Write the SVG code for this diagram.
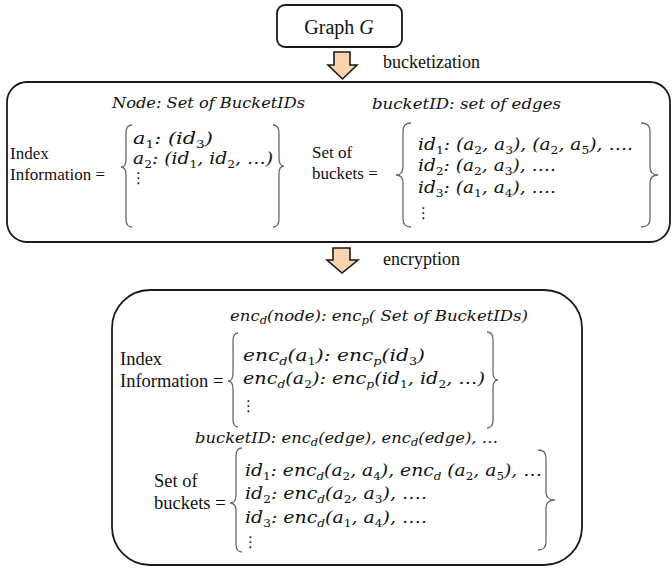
<svg xmlns="http://www.w3.org/2000/svg" width="672" height="568" viewBox="0 0 672 568">
<style>
.box{fill:#fff;stroke:#1a1a1a;stroke-width:1.8}
.br{fill:none;stroke:#6a6a6a;stroke-width:1.3}
.arr{fill:#FBD3AC;stroke:#1a1a1a;stroke-width:1.6;stroke-linejoin:miter}
.t{font-family:"Liberation Serif","Times New Roman",serif;fill:#111}
.m{font-family:"DejaVu Serif","Liberation Serif",serif;font-style:italic;fill:#111}
.sb{font-size:10.5px;font-style:normal}
.si{font-size:10.5px;font-style:italic}
.vd{font-family:"DejaVu Sans",sans-serif;font-size:15px;fill:#111}
</style>
<rect width="672" height="568" fill="#fff"/>

<g id="connectors">
  <path class="arr" d="M334,52 H350 V65 H357 L342.5,79 L328,65 H334 Z"/>
  <text class="t" x="383" y="68" font-size="18">bucketization</text>
  <path class="arr" d="M333,248 H350 V260 H358 L342,273 L327,260 H333 Z"/>
  <text class="t" x="383" y="265" font-size="18">encryption</text>
</g>

<g id="graph">
  <rect class="box" x="277" y="5" width="125" height="42" rx="8"/>
  <text class="t" x="339" y="34" font-size="20" text-anchor="middle">Graph <tspan font-style="italic">G</tspan></text>
</g>

<g id="bucketized">
  <rect class="box" x="7" y="82" width="663" height="160" rx="20"/>
  <text class="m" x="112" y="108" font-size="15" textLength="193" lengthAdjust="spacingAndGlyphs">Node: Set of BucketIDs</text>
  <text class="m" x="372" y="109" font-size="15" textLength="189" lengthAdjust="spacingAndGlyphs">bucketID: set of edges</text>
  <text class="t" x="10" y="159" font-size="17">Index</text>
  <text class="t" x="10" y="180" font-size="17">Information =</text>
  <path class="br" d="M132,125 Q126,125 126,133 L126,159 Q126,167 121,167 Q126,167 126,175 L126,219 Q126,227 132,227"/>
  <text class="m" x="133" y="144" font-size="16" textLength="80" lengthAdjust="spacingAndGlyphs">a<tspan class="sb" dy="3.5">1</tspan><tspan dy="-3.5">: (id</tspan><tspan class="sb" dy="3.5">3</tspan><tspan dy="-3.5">)</tspan></text>
  <text class="m" x="133" y="164" font-size="16" textLength="140" lengthAdjust="spacingAndGlyphs">a<tspan class="sb" dy="3.5">2</tspan><tspan dy="-3.5">: (id</tspan><tspan class="sb" dy="3.5">1</tspan><tspan dy="-3.5">, id</tspan><tspan class="sb" dy="3.5">2</tspan><tspan dy="-3.5">, …)</tspan></text>
  <text class="vd" x="131" y="183">⋮</text>
  <path class="br" d="M273,125 Q279,125 279,133 L279,158 Q279,166 284,166 Q279,166 279,174 L279,219 Q279,227 273,227"/>
  <text class="t" x="312" y="158" font-size="17">Set of</text>
  <text class="t" x="312" y="179" font-size="17">buckets =</text>
  <path class="br" d="M411,123 Q403,123 403,131 L403,167 Q403,175 396,175 Q403,175 403,183 L403,219 Q403,227 411,227"/>
  <text class="m" x="418" y="150" font-size="16" textLength="215" lengthAdjust="spacingAndGlyphs">id<tspan class="sb" dy="3.5">1</tspan><tspan dy="-3.5">: (a</tspan><tspan class="sb" dy="3.5">2</tspan><tspan dy="-3.5">, a</tspan><tspan class="sb" dy="3.5">3</tspan><tspan dy="-3.5">), (a</tspan><tspan class="sb" dy="3.5">2</tspan><tspan dy="-3.5">, a</tspan><tspan class="sb" dy="3.5">5</tspan><tspan dy="-3.5">), ….</tspan></text>
  <text class="m" x="418" y="171" font-size="16" textLength="138" lengthAdjust="spacingAndGlyphs">id<tspan class="sb" dy="3.5">2</tspan><tspan dy="-3.5">: (a</tspan><tspan class="sb" dy="3.5">2</tspan><tspan dy="-3.5">, a</tspan><tspan class="sb" dy="3.5">3</tspan><tspan dy="-3.5">), ….</tspan></text>
  <text class="m" x="418" y="193" font-size="16" textLength="138" lengthAdjust="spacingAndGlyphs">id<tspan class="sb" dy="3.5">3</tspan><tspan dy="-3.5">: (a</tspan><tspan class="sb" dy="3.5">1</tspan><tspan dy="-3.5">, a</tspan><tspan class="sb" dy="3.5">4</tspan><tspan dy="-3.5">), ….</tspan></text>
  <text class="vd" x="416" y="218">⋮</text>
  <path class="br" d="M641,123 Q650,123 650,131 L650,167 Q650,175 658,175 Q650,175 650,183 L650,219 Q650,227 641,227"/>
</g>

<g id="encrypted">
  <rect class="box" x="112" y="290" width="470" height="275" rx="38"/>
  <text class="m" x="230" y="321" font-size="15" textLength="298" lengthAdjust="spacingAndGlyphs">enc<tspan class="si" dy="3">d</tspan><tspan dy="-3">(node): enc</tspan><tspan class="si" dy="3">p</tspan><tspan dy="-3">( Set of BucketIDs)</tspan></text>
  <text class="t" x="120" y="365" font-size="18.5">Index</text>
  <text class="t" x="120" y="387" font-size="18.5">Information =</text>
  <path class="br" d="M238,333 Q233,333 233,341 L233,373 Q233,381 228,381 Q233,381 233,389 L233,419 Q233,427 238,427"/>
  <text class="m" x="243" y="361" font-size="16.5" textLength="182" lengthAdjust="spacingAndGlyphs">enc<tspan class="si" dy="3.5">d</tspan><tspan dy="-3.5">(a</tspan><tspan class="sb" dy="3.5">1</tspan><tspan dy="-3.5">): enc</tspan><tspan class="si" dy="3.5">p</tspan><tspan dy="-3.5">(id</tspan><tspan class="sb" dy="3.5">3</tspan><tspan dy="-3.5">)</tspan></text>
  <text class="m" x="243" y="384" font-size="16.5" textLength="242" lengthAdjust="spacingAndGlyphs">enc<tspan class="si" dy="3.5">d</tspan><tspan dy="-3.5">(a</tspan><tspan class="sb" dy="3.5">2</tspan><tspan dy="-3.5">): enc</tspan><tspan class="si" dy="3.5">p</tspan><tspan dy="-3.5">(id</tspan><tspan class="sb" dy="3.5">1</tspan><tspan dy="-3.5">, id</tspan><tspan class="sb" dy="3.5">2</tspan><tspan dy="-3.5">, …)</tspan></text>
  <text class="vd" x="241" y="411">⋮</text>
  <path class="br" d="M487,332 Q493,332 493,340 L493,372 Q493,380 498,380 Q493,380 493,388 L493,420 Q493,428 487,428"/>
  <text class="m" x="195" y="443" font-size="15" textLength="303" lengthAdjust="spacingAndGlyphs">bucketID: enc<tspan class="si" dy="3">d</tspan><tspan dy="-3">(edge), enc</tspan><tspan class="si" dy="3">d</tspan><tspan dy="-3">(edge), …</tspan></text>
  <text class="t" x="154" y="487" font-size="18.5">Set of</text>
  <text class="t" x="154" y="509" font-size="18.5">buckets =</text>
  <path class="br" d="M242,448 Q236,448 236,456 L236,495 Q236,503 230,503 Q236,503 236,511 L236,544 Q236,552 242,552"/>
  <text class="m" x="245" y="476" font-size="16.5" textLength="297" lengthAdjust="spacingAndGlyphs">id<tspan class="sb" dy="3.5">1</tspan><tspan dy="-3.5">: enc</tspan><tspan class="si" dy="3.5">d</tspan><tspan dy="-3.5">(a</tspan><tspan class="sb" dy="3.5">2</tspan><tspan dy="-3.5">, a</tspan><tspan class="sb" dy="3.5">4</tspan><tspan dy="-3.5">), enc</tspan><tspan class="si" dy="3.5">d</tspan><tspan dy="-3.5"> (a</tspan><tspan class="sb" dy="3.5">2</tspan><tspan dy="-3.5">, a</tspan><tspan class="sb" dy="3.5">5</tspan><tspan dy="-3.5">), …</tspan></text>
  <text class="m" x="245" y="499" font-size="16.5" textLength="182" lengthAdjust="spacingAndGlyphs">id<tspan class="sb" dy="3.5">2</tspan><tspan dy="-3.5">: enc</tspan><tspan class="si" dy="3.5">d</tspan><tspan dy="-3.5">(a</tspan><tspan class="sb" dy="3.5">2</tspan><tspan dy="-3.5">, a</tspan><tspan class="sb" dy="3.5">3</tspan><tspan dy="-3.5">), ….</tspan></text>
  <text class="m" x="245" y="523" font-size="16.5" textLength="182" lengthAdjust="spacingAndGlyphs">id<tspan class="sb" dy="3.5">3</tspan><tspan dy="-3.5">: enc</tspan><tspan class="si" dy="3.5">d</tspan><tspan dy="-3.5">(a</tspan><tspan class="sb" dy="3.5">1</tspan><tspan dy="-3.5">, a</tspan><tspan class="sb" dy="3.5">4</tspan><tspan dy="-3.5">), ….</tspan></text>
  <text class="vd" x="243" y="547">⋮</text>
  <path class="br" d="M538,450 Q546,450 546,458 L546,492 Q546,500 555,500 Q546,500 546,508 L546,542 Q546,550 538,550"/>
</g>
</svg>
